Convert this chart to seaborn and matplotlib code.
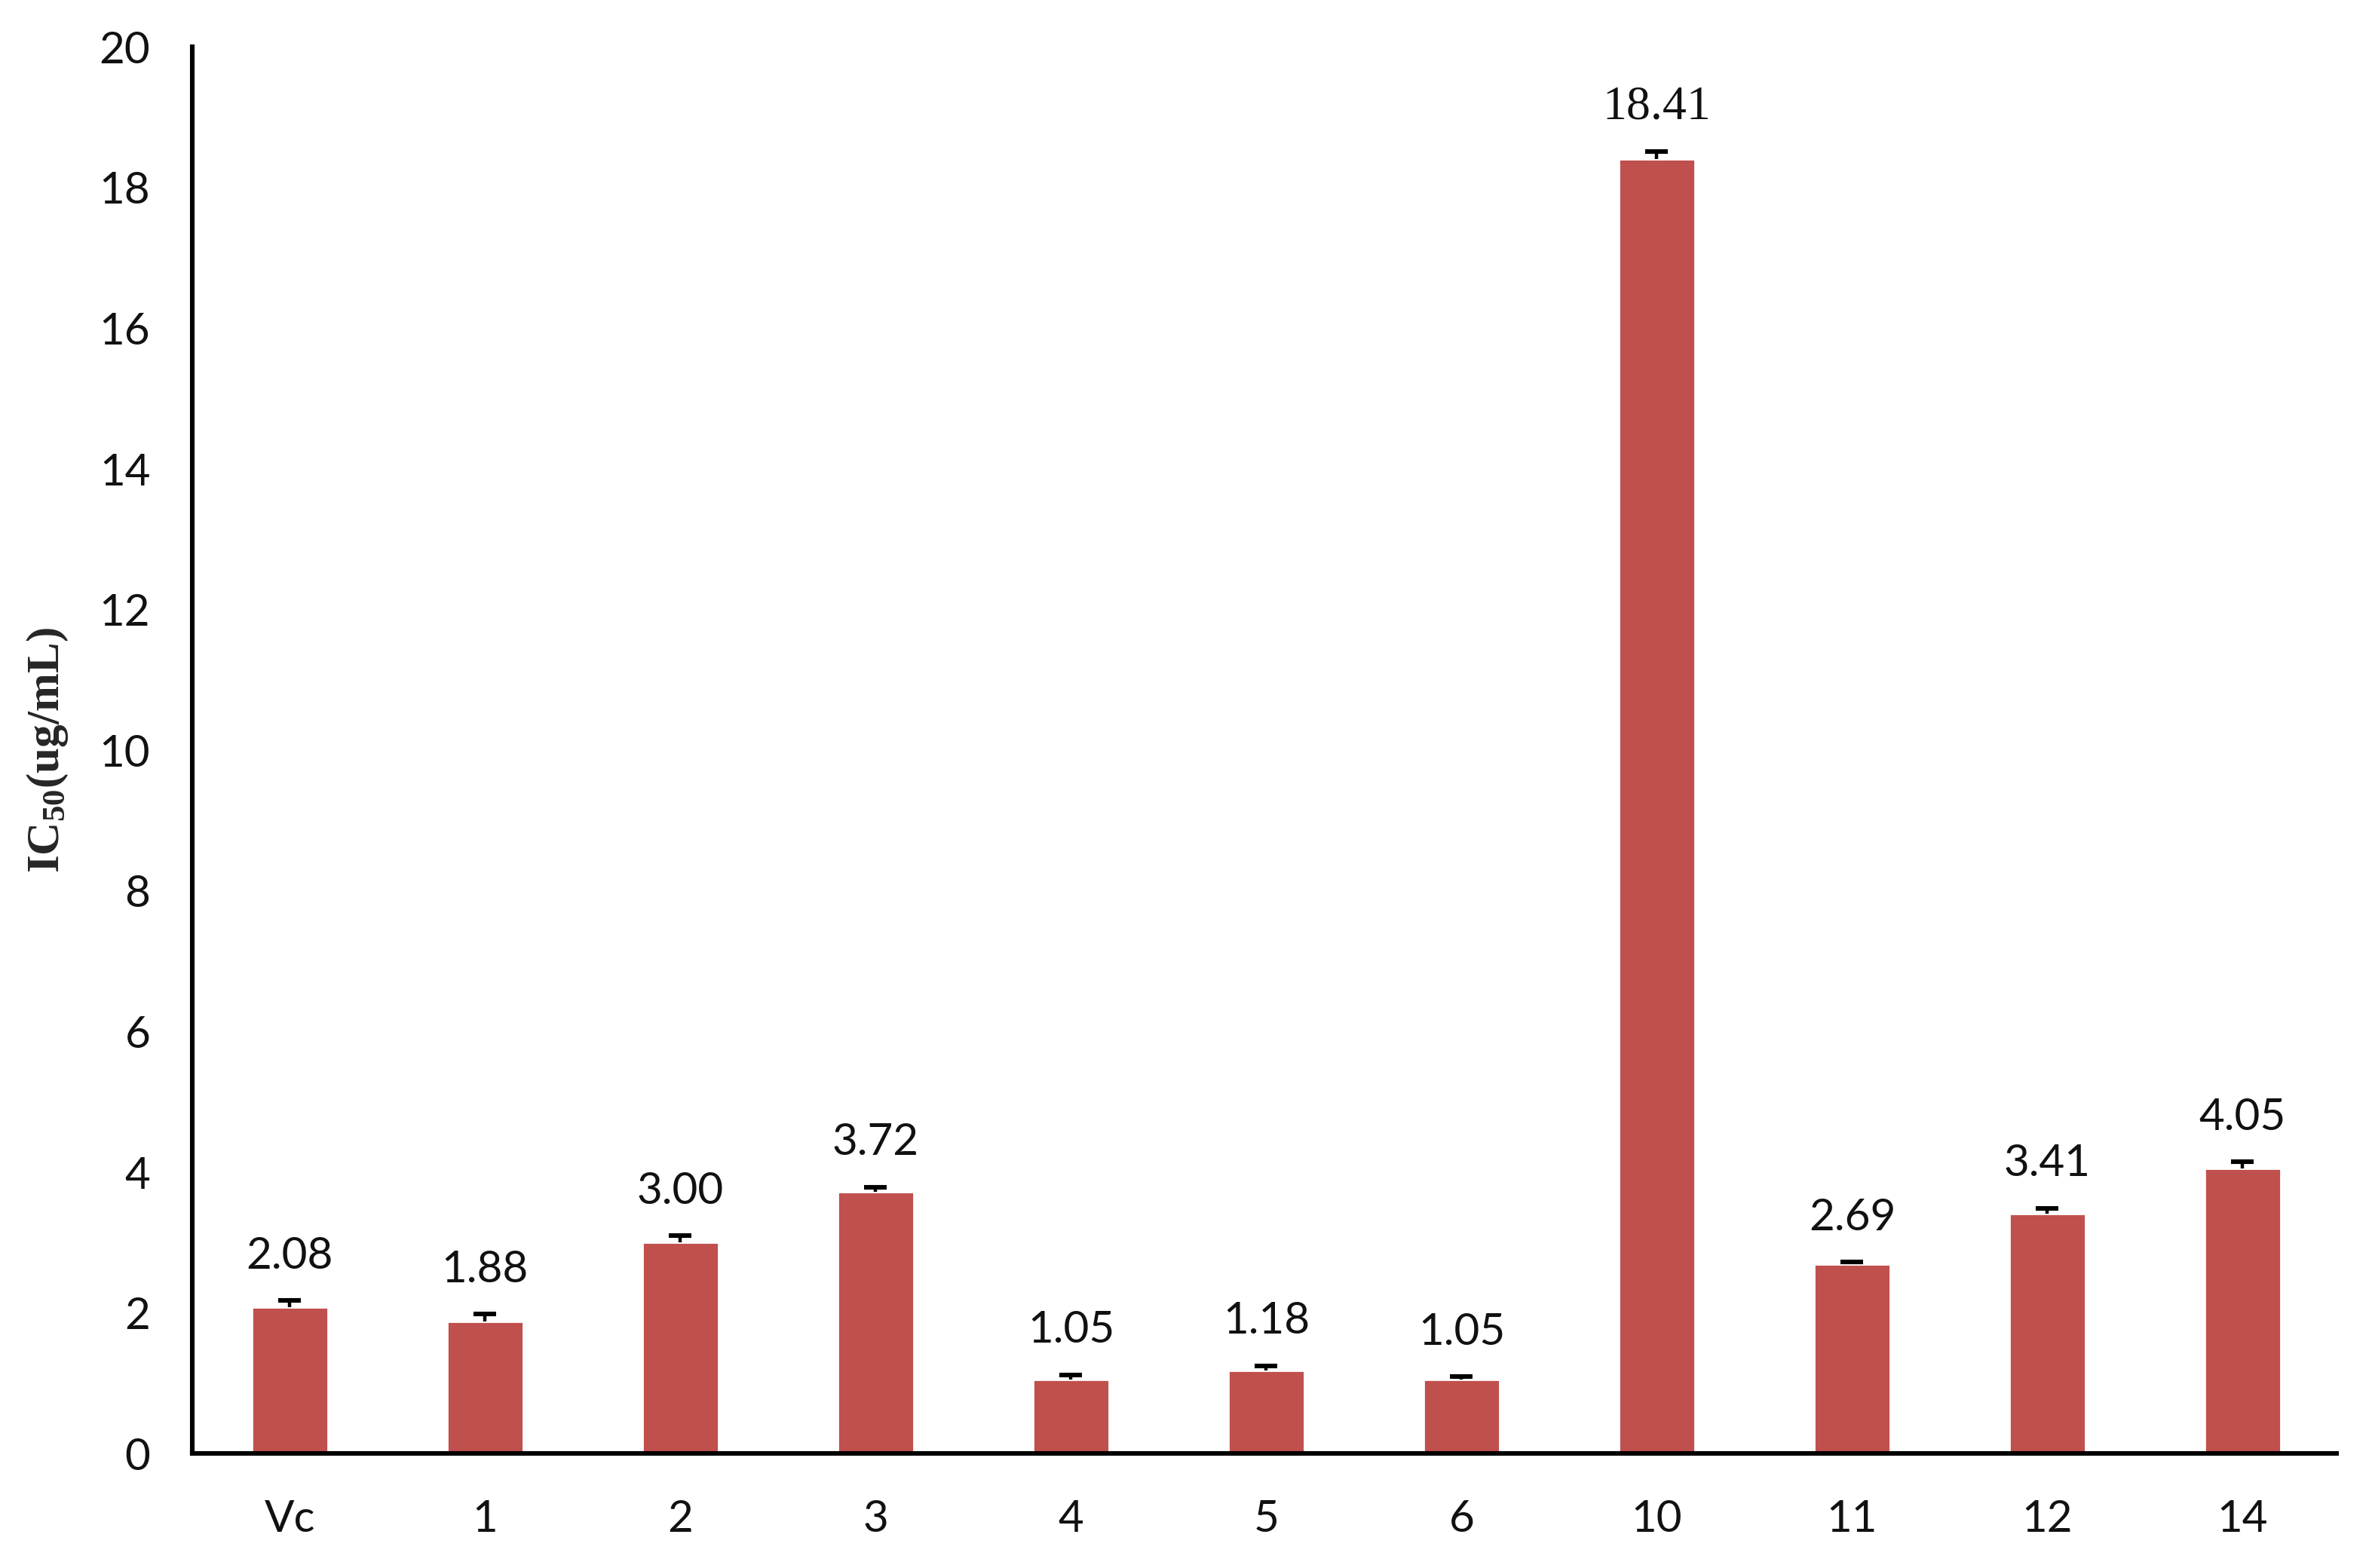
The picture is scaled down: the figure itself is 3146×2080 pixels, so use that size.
import matplotlib
matplotlib.use("Agg")
import matplotlib.pyplot as plt
import seaborn as sns
import pandas as pd

# IC50 values per compound
compounds = ['Vc', '1', '2', '3', '4', '5', '6', '10', '11', '12', '14']
ic50 = [2.08, 1.88, 3.00, 3.72, 1.05, 1.18, 1.05, 18.41, 2.69, 3.41, 4.05]
err = [0.10, 0.10, 0.10, 0.07, 0.07, 0.07, 0.04, 0.10, 0.03, 0.08, 0.10]
label_text = ['2.08', '1.88', '3.00', '3.72', '1.05', '1.18', '1.05', '18.41', '2.69', '3.41', '4.05']

df = pd.DataFrame({'Compound': compounds, 'IC50': ic50, 'Err': err})
df['Top'] = df['IC50'] + df['Err']

sns.set_style('white')
plt.rcParams['font.family'] = ['Lato', 'DejaVu Sans']
plt.rcParams['mathtext.fontset'] = 'custom'
plt.rcParams['mathtext.bf'] = 'Liberation Serif:bold'
plt.rcParams['mathtext.rm'] = 'Liberation Serif'

fig, ax = plt.subplots(figsize=(15.73, 10.4), dpi=200)
fig.subplots_adjust(left=0.081, right=0.985, bottom=0.073, top=0.97)

sns.barplot(data=df, x='Compound', y='IC50', order=compounds, color='#C0504D',
            saturation=1, width=0.39, errorbar=None, ax=ax, zorder=2)
# upper error bars only (stem + cap)
xs = list(range(len(compounds)))
ax.vlines(xs, df['IC50'], df['Top'], color='black', linewidth=1.6, zorder=3)
ax.plot(xs, df['Top'], linestyle='none', marker='_', markersize=11,
        markeredgewidth=2.2, color='black', zorder=3)

for i, (top, t) in enumerate(zip(df['Top'], label_text)):
    if t == '18.41':
        fam, fs = ['Liberation Serif'], 23
    else:
        fam, fs = ['Lato', 'DejaVu Sans'], 21
    ax.text(i, top + 0.63, t, ha='center', va='center', fontsize=fs, family=fam,
            color='#111111')

ax.set_ylim(0, 20)
ax.set_xlim(-0.5, 10.48)
ax.set_yticks(range(0, 21, 2))
ax.tick_params(axis='both', length=0, labelsize=21, colors='#111111')
ax.tick_params(axis='y', pad=20)
ax.tick_params(axis='x', pad=22)
ax.set_xlabel('')
ax.set_ylabel(r'$\mathbf{IC_{50}(ug/mL)}$', fontsize=22, labelpad=14)

sns.despine(ax=ax)
for s in ['left', 'bottom']:
    ax.spines[s].set_color('black')
    ax.spines[s].set_linewidth(2.2)
    ax.spines[s].set_zorder(4)

fig.savefig('out.png', dpi=200)
